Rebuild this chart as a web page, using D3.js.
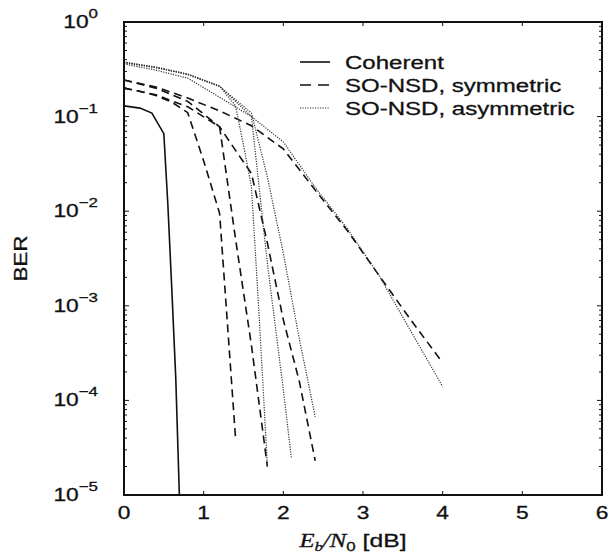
<!DOCTYPE html>
<html>
  <head>
    <meta charset="utf-8">
    <title>BER vs Eb/N0</title>
    <style>
      body { margin: 0; background: #fff; }
      svg { display: block; }
      text { font-family: "Liberation Sans", Arial, sans-serif; fill: #111; stroke: #111; stroke-width: 0.3; }
    </style>
    <script src="https://cdn.jsdelivr.net/npm/d3@7"></script>
  </head>
  <body>
    <svg id="chart" width="611" height="553"></svg>
    <script>
      // values
      var xTicks = [0, 1, 2, 3, 4, 5, 6];
      var yTicks = [1, 1e-1, 1e-2, 1e-3, 1e-4, 1e-5];
      var yTickExp = ["0", "\u22121", "\u22122", "\u22123", "\u22124", "\u22125"];
      var legendLabels = ["Coherent", "SO-NSD, symmetric", "SO-NSD, asymmetric"];

      // coherent (solid)
      var cohX = [0, 0.2, 0.35, 0.5, 0.55, 0.6, 0.65, 0.695];
      var cohBer = [0.13, 0.123, 0.109, 0.066, 0.012, 1.5e-3, 1.7e-4, 1e-5];

      // SO-NSD symmetric (dashed)
      var symAx = [0, 0.2, 0.4, 0.6, 0.8, 1.0, 1.2, 1.4];
      var symA = [0.2, 0.185, 0.167, 0.142, 0.11, 0.034, 0.0095, 4e-5];
      var symBx = [0, 0.4, 0.8, 1.2, 1.4, 1.6, 1.8];
      var symB = [0.2, 0.17, 0.127, 0.078, 0.0051, 3.8e-4, 2e-5];
      var symCx = [0, 0.4, 0.8, 1.2, 1.4, 1.6, 1.8, 2.0, 2.2, 2.4];
      var symC = [0.244, 0.2, 0.145, 0.078, 0.044, 0.025, 0.0046, 7.1e-4, 1.6e-4, 2.3e-5];
      var symDx = [0, 0.4, 0.8, 1.2, 1.6, 2.0, 2.4, 2.8, 3.2, 3.6, 4.0];
      var symD = [0.244, 0.206, 0.157, 0.115, 0.08, 0.0455, 0.0167, 0.0063, 0.0021, 7.1e-4, 2.5e-4];

      // SO-NSD asymmetric (dotted)
      var asyAx = [0, 0.4, 0.8, 1.2, 1.4, 1.5, 1.6, 1.7, 1.8];
      var asyA = [0.378, 0.334, 0.282, 0.21, 0.13, 0.05, 0.018, 7e-4, 2e-5];
      var asyBx = [0, 0.4, 0.8, 1.2, 1.6, 1.8, 2.0, 2.1];
      var asyB = [0.375, 0.33, 0.28, 0.21, 0.1, 0.0028, 1.3e-4, 2.5e-5];
      var asyCx = [0, 0.4, 0.8, 1.2, 1.6, 1.8, 2.0, 2.2, 2.4];
      var asyC = [0.37, 0.33, 0.278, 0.208, 0.109, 0.023, 0.0036, 4.5e-4, 6.7e-5];
      var asyDx = [0, 0.4, 0.8, 1.2, 1.6, 2.0, 2.2, 2.4, 2.8, 3.2, 3.6, 4.0];
      var asyD = [0.36, 0.31, 0.255, 0.16, 0.1, 0.054, 0.031, 0.0178, 0.0066, 0.0021, 5.4e-4, 1.4e-4];

      var L = 124, R = 602, T = 22, B = 495;
      var SX = 1.3; // the scan is stretched sideways, so is the lettering

      var svg = d3.select("#chart");
      var x = d3.scaleLinear().domain([0, 6]).range([L, R]);
      var y = d3.scaleLog().domain([1e-5, 1]).range([B, T]);

      var styles = {
        solid: { dash: null, width: 1.6, color: "#111" },
        dashed: { dash: "8,5", width: 1.6, color: "#111" },
        dotted: { dash: "1.2,1.3", width: 1.2, color: "#333" }
      };

      function pairs(xs, ys) { return xs.map(function(v, i) { return [v, ys[i]]; }); }

      var series = [
        { kind: "solid", pts: pairs(cohX, cohBer) },
        { kind: "dashed", pts: pairs(symAx, symA) },
        { kind: "dashed", pts: pairs(symBx, symB) },
        { kind: "dashed", pts: pairs(symCx, symC) },
        { kind: "dashed", pts: pairs(symDx, symD) },
        { kind: "dotted", pts: pairs(asyAx, asyA) },
        { kind: "dotted", pts: pairs(asyBx, asyB) },
        { kind: "dotted", pts: pairs(asyCx, asyC) },
        { kind: "dotted", pts: pairs(asyDx, asyD) }
      ];

      svg.append("clipPath").attr("id", "plot")
        .append("rect").attr("x", L).attr("y", T).attr("width", R - L).attr("height", B - T);

      var line = d3.line().x(function(d) { return x(d[0]); }).y(function(d) { return y(d[1]); });

      svg.append("g").attr("clip-path", "url(#plot)")
        .selectAll("path").data(series).enter().append("path")
        .attr("d", function(d) { return line(d.pts); })
        .attr("fill", "none")
        .attr("stroke", function(d) { return styles[d.kind].color; })
        .attr("stroke-width", function(d) { return styles[d.kind].width; })
        .attr("stroke-dasharray", function(d) { return styles[d.kind].dash; });

      // ticks, pointing inwards on all four sides
      var tk = svg.append("g").attr("stroke", "#111").attr("stroke-width", 1);
      xTicks.forEach(function(v) {
        tk.append("line").attr("x1", x(v)).attr("x2", x(v)).attr("y1", B).attr("y2", B - 4);
        tk.append("line").attr("x1", x(v)).attr("x2", x(v)).attr("y1", T).attr("y2", T + 4);
      });
      y.ticks().forEach(function(v) {
        var major = yTicks.indexOf(v) >= 0;
        var len = major ? 5 : 3;
        tk.append("line").attr("x1", L).attr("x2", L + len).attr("y1", y(v)).attr("y2", y(v));
        tk.append("line").attr("x1", R).attr("x2", R - len).attr("y1", y(v)).attr("y2", y(v));
      });

      svg.append("rect").attr("x", L).attr("y", T).attr("width", R - L).attr("height", B - T)
        .attr("fill", "none").attr("stroke", "#111").attr("stroke-width", 2);

      function stretched(px, py) {
        return svg.append("g").attr("transform", "translate(" + px + "," + py + ") scale(" + SX + ",1)")
          .append("text");
      }

      xTicks.forEach(function(v) {
        stretched(x(v), 519).attr("text-anchor", "middle").attr("font-size", 17.5).text(v);
      });

      yTicks.forEach(function(v, i) {
        var t = stretched(98, y(v) + 6).attr("text-anchor", "end").attr("font-size", 17.5);
        t.append("tspan").text("10");
        t.append("tspan").attr("dy", -10).attr("font-size", 13).text(yTickExp[i]);
      });

      // axis titles
      svg.append("g").attr("transform", "translate(27," + ((T + B) / 2) + ") rotate(-90) scale(1.25,1)")
        .append("text").attr("text-anchor", "middle").attr("font-size", 18).text("BER");

      var serif = "'Liberation Serif', 'Times New Roman', serif";
      var xl = stretched(353, 547).attr("text-anchor", "middle").attr("font-size", 19);
      xl.append("tspan").attr("font-family", serif).attr("font-style", "italic").text("E");
      xl.append("tspan").attr("font-family", serif).attr("font-style", "italic")
        .attr("font-size", 13).attr("dy", 4).text("b");
      xl.append("tspan").attr("font-family", serif).attr("font-style", "italic").attr("dy", -4).text("/N");
      xl.append("tspan").attr("font-size", 13).attr("dy", 4).text("0");
      xl.append("tspan").attr("dy", -4).text(" [dB]");

      // legend
      var legY = [62, 85, 108];
      var legKinds = ["solid", "dashed", "dotted"];
      legendLabels.forEach(function(lab, i) {
        var s = styles[legKinds[i]];
        svg.append("line").attr("x1", 300).attr("x2", 330).attr("y1", legY[i]).attr("y2", legY[i])
          .attr("stroke", s.color).attr("stroke-width", s.width)
          .attr("stroke-dasharray", legKinds[i] == "dashed" ? "11,7" : s.dash);
        stretched(345, legY[i] + 6.5).attr("font-size", 18.5).text(lab);
      });
    </script>
  </body>
</html>
